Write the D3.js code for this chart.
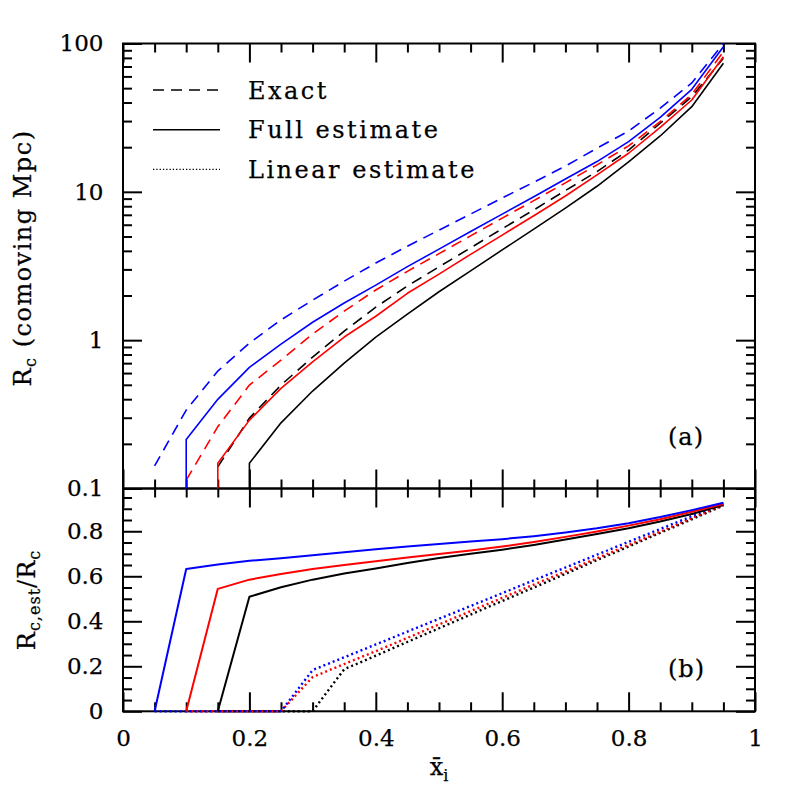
<!DOCTYPE html>
<html><head><meta charset="utf-8">
<script src="https://cdn.jsdelivr.net/npm/d3@7"></script>
<style>body{margin:0;background:#fff}svg{display:block}</style>
</head><body>
<svg id="c" width="797" height="797"></svg>
<script>
// ---------- data ----------
const xGrid = [0.05,0.10,0.15,0.20,0.25,0.30,0.35,0.40,0.45,0.50,0.55,0.60,0.65,0.70,0.75,0.80,0.85,0.90,0.95];

// panel (a): R_c in comoving Mpc
const exactBlue = [0.142,0.338,0.619,0.955,1.37,1.86,2.50,3.31,4.30,5.52,7.08,9.10,11.6,14.9,19.7,25.7,36.7,54.2,100];
const fullBlue  = [null,0.214,0.399,0.656,0.941,1.32,1.78,2.35,3.13,4.11,5.40,7.08,9.27,12.2,16.0,21.8,31.8,49.1,95.1];
const exactRed  = [null,0.114,0.261,0.498,0.734,1.10,1.57,2.18,2.91,3.83,5.05,6.65,8.73,11.5,15.2,20.4,29.7,45.4,88.0];
const fullRed   = [null,null,0.148,0.289,0.473,0.715,1.05,1.45,2.07,2.79,3.79,5.11,6.90,9.37,13.0,18.2,27.2,41.6,81.5];
const exactBlack= [null,null,0.140,0.298,0.498,0.769,1.15,1.67,2.32,3.12,4.19,5.64,7.55,10.2,13.7,19.1,29.0,43.8,79.5];
const fullBlack = [null,null,null,0.148,0.277,0.454,0.701,1.05,1.50,2.12,2.93,4.06,5.60,7.76,10.9,15.9,23.8,37.5,73.5];

// panel (b): R_c,est / R_c
const ratioFullBlue  = [0,0.632,0.652,0.669,0.680,0.693,0.707,0.720,0.732,0.743,0.754,0.765,0.778,0.794,0.813,0.836,0.863,0.894,0.927];
const ratioFullRed   = [null,0,0.544,0.585,0.610,0.632,0.650,0.667,0.683,0.699,0.715,0.732,0.752,0.775,0.799,0.825,0.853,0.887,0.921];
const ratioFullBlack = [null,null,0,0.509,0.551,0.585,0.612,0.635,0.659,0.681,0.700,0.718,0.739,0.763,0.788,0.813,0.843,0.877,0.917];
const ratioLinBlue   = [0,0,0,0,0,0.183,0.240,0.297,0.354,0.411,0.468,0.525,0.582,0.639,0.696,0.753,0.810,0.867,0.924];
const ratioLinRed    = [null,0,0,0,0,0.152,0.210,0.267,0.326,0.386,0.445,0.504,0.563,0.621,0.680,0.739,0.798,0.858,0.917];
const ratioLinBlack  = [null,null,0,0,0,0,0.187,0.247,0.308,0.369,0.430,0.490,0.550,0.611,0.672,0.732,0.793,0.853,0.914];

// ticks
const xMajor = [0,0.2,0.4,0.6,0.8,1];
const xMinor = [0.05,0.1,0.15,0.25,0.3,0.35,0.45,0.5,0.55,0.65,0.7,0.75,0.85,0.9,0.95];
const xTickLabels = ["0","0.2","0.4","0.6","0.8","1"];
const yAMajor = [0.1,1,10,100];
const yAMajorLabels = ["0.1","1","10","100"];
const yAMinor = [0.2,0.3,0.4,0.5,0.6,0.7,0.8,0.9,2,3,4,5,6,7,8,9,20,30,40,50,60,70,80,90];
const yBMajor = [0,0.2,0.4,0.6,0.8];
const yBMajorLabels = ["0","0.2","0.4","0.6","0.8"];
const yBMinor = [0.05,0.1,0.15,0.25,0.3,0.35,0.45,0.5,0.55,0.65,0.7,0.75,0.85,0.9,0.95];

const legendItems = [
  {label:"Exact", dash:"11,7", w:1.6},
  {label:"Full estimate", dash:null, w:1.6},
  {label:"Linear estimate", dash:"1.3,2", w:1.4}
];

// ---------- layout ----------
const svg = d3.select("#c");
const FONT = "'DejaVu Serif', serif";
const L = 123, R = 755, T = 43.5, M = 488.5, B = 711.3;
const MAJ = 19, MIN = 9;

const x  = d3.scaleLinear().domain([0,1]).range([L,R]);
const yA = d3.scaleLog().domain([0.1,100]).range([M,T]);
const yB = d3.scaleLinear().domain([0,0.99]).range([B,M]);

svg.append("rect").attr("width",797).attr("height",797).attr("fill","#fff");

function tickAxis(axisFn, scale, values, size, tx, ty, labels, pad){
  const a = axisFn(scale).tickValues(values).tickSizeInner(size).tickSizeOuter(0);
  if(labels){ a.tickFormat((d,i)=>labels[i]).tickPadding(pad); } else { a.tickFormat(""); }
  const g = svg.append("g").attr("transform",`translate(${tx},${ty})`).call(a);
  g.select(".domain").remove();
  g.selectAll("line").attr("stroke","#000").attr("stroke-width",2);
  g.selectAll("text").attr("font-family",FONT).attr("font-size",23).attr("fill","#000")
    .attr("stroke","#000").attr("stroke-width",0.25);
  return g;
}

// Panel (a) ticks
tickAxis(d3.axisBottom, x, xMajor, -MAJ, 0, M);
tickAxis(d3.axisBottom, x, xMinor, -MIN, 0, M);
tickAxis(d3.axisTop, x, xMajor, -MAJ, 0, T);
tickAxis(d3.axisTop, x, xMinor, -MIN, 0, T);
tickAxis(d3.axisLeft, yA, yAMajor, -MAJ, L, 0, yAMajorLabels, 19.5);
tickAxis(d3.axisLeft, yA, yAMinor, -MIN, L, 0);
tickAxis(d3.axisRight, yA, yAMajor, -MAJ, R, 0);
tickAxis(d3.axisRight, yA, yAMinor, -MIN, R, 0);

// Panel (b) ticks
tickAxis(d3.axisBottom, x, xMajor, -MAJ, 0, B, xTickLabels, 18);
tickAxis(d3.axisBottom, x, xMinor, -MIN, 0, B);
tickAxis(d3.axisTop, x, xMajor, -MAJ, 0, M);
tickAxis(d3.axisTop, x, xMinor, -MIN, 0, M);
tickAxis(d3.axisLeft, yB, yBMajor, -MAJ, L, 0, yBMajorLabels, 19.5);
tickAxis(d3.axisLeft, yB, yBMinor, -MIN, L, 0);
tickAxis(d3.axisRight, yB, yBMajor, -MAJ, R, 0);
tickAxis(d3.axisRight, yB, yBMinor, -MIN, R, 0);

// frames
svg.append("rect").attr("x",L).attr("y",T).attr("width",R-L).attr("height",M-T)
  .attr("fill","none").attr("stroke","#000").attr("stroke-width",2);
svg.append("rect").attr("x",L).attr("y",M).attr("width",R-L).attr("height",B-M)
  .attr("fill","none").attr("stroke","#000").attr("stroke-width",2);

// ---------- lines ----------
function pts(vals){ return xGrid.map((xv,i)=>[xv, vals[i]]).filter(d=>d[1]!==null); }

const lineA = d3.line().x(d=>x(d[0])).y(d=>yA(Math.max(d[1], yA.domain()[0])));
const lineB = d3.line().x(d=>x(d[0])).y(d=>yB(d[1]));

function drawA(vals, color, dash, drop){
  let p = pts(vals);
  if(drop) p = [[p[0][0], yA.domain()[0]]].concat(p);
  svg.append("path").attr("d", lineA(p)).attr("fill","none").attr("stroke",color)
    .attr("stroke-width",1.6).attr("stroke-dasharray",dash).attr("stroke-linejoin","round");
}
function drawB(vals, color, dash, w){
  svg.append("path").attr("d", lineB(pts(vals))).attr("fill","none").attr("stroke",color)
    .attr("stroke-width",w).attr("stroke-dasharray",dash).attr("stroke-linejoin","round");
}

drawA(fullBlack, "#000", null, true);
drawA(exactBlack, "#000", "11,7", false);
drawA(fullRed, "#ff0000", null, true);
drawA(exactRed, "#ff0000", "11,7", false);
drawA(fullBlue, "#0000ff", null, true);
drawA(exactBlue, "#0000ff", "11,7", false);

drawB(ratioLinBlack, "#000", "2,3", 2.4);
drawB(ratioLinRed, "#ff0000", "2,3", 2.4);
drawB(ratioLinBlue, "#0000ff", "2,3", 2.4);
drawB(ratioFullBlack, "#000", null, 2);
drawB(ratioFullRed, "#ff0000", null, 2);
drawB(ratioFullBlue, "#0000ff", null, 2);

// ---------- legend ----------
const lg = svg.append("g");
legendItems.forEach((it,i)=>{
  const yy = 90 + i*39.7;
  lg.append("line").attr("x1",153).attr("x2",220).attr("y1",yy).attr("y2",yy)
    .attr("stroke","#000").attr("stroke-width",it.w).attr("stroke-dasharray",it.dash);
  lg.append("text").attr("x",248).attr("y",yy+8.5).text(it.label)
    .attr("font-family",FONT).attr("font-size",24).attr("letter-spacing","2.5px").attr("fill","#000")
    .attr("stroke","#000").attr("stroke-width",0.25);
});

// ---------- labels ----------
function styleText(t, size, ls){
  return t.attr("font-family",FONT).attr("font-size",size).attr("letter-spacing",ls)
    .attr("fill","#000").attr("stroke","#000").attr("stroke-width",0.25);
}
styleText(svg.append("text").attr("x",668).attr("y",445).text("(a)"), 24, "1px");
styleText(svg.append("text").attr("x",668).attr("y",677).text("(b)"), 24, "1px");

const ya = styleText(svg.append("text").attr("transform","translate(31,258) rotate(-90)")
  .attr("text-anchor","middle"), 24, "1.5px");
ya.append("tspan").text("R");
ya.append("tspan").attr("font-size",16).attr("dy",5).text("c");
ya.append("tspan").attr("dy",-5).text(" (comoving Mpc)");

const yb = styleText(svg.append("text").attr("transform","translate(35,600) rotate(-90)")
  .attr("text-anchor","middle"), 24, "1px");
yb.append("tspan").text("R");
yb.append("tspan").attr("font-size",16).attr("dy",5).text("c,est");
yb.append("tspan").attr("dy",-5).text("/R");
yb.append("tspan").attr("font-size",16).attr("dy",5).text("c");

const xl = styleText(svg.append("text").attr("x",439).attr("y",775).attr("text-anchor","middle"), 24, "0px");
xl.append("tspan").text("x\u0304");
xl.append("tspan").attr("font-size",16).attr("dy",6).text("i");
</script>
</body></html>
